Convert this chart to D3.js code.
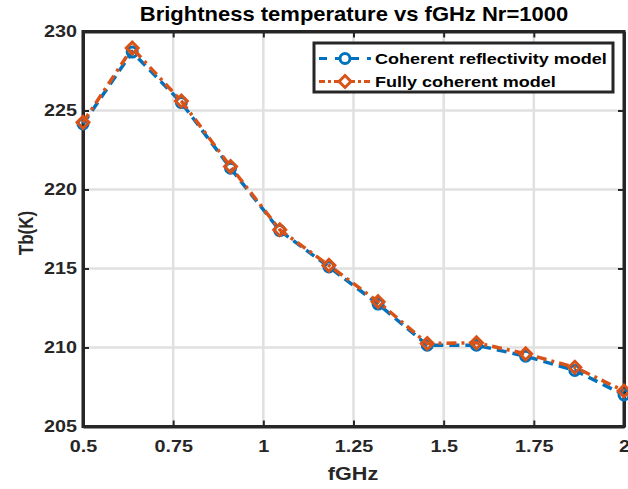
<!doctype html>
<head>
	<title>Tb vs fGHz</title>
	<script src="https://d3js.org/d3.v7.min.js"></script>
	<style>
		body { margin: 0; background: #fff; }
		text { font-family: "Liberation Sans", Arial, sans-serif; font-weight: bold; }
	</style>
</head>
<body>
	<svg id="chart" width="628" height="489"></svg>
	<script>
		// frequencies (GHz), 12 points from 0.5 to 2
		const fGHz = [0.5, 0.6364, 0.7727, 0.9091, 1.0455, 1.1818, 1.3182, 1.4545, 1.5909, 1.7273, 1.8636, 2.0]
		const tbCoherentRefl = [224.15, 228.7, 225.5, 221.35, 217.4, 215.1, 212.75, 210.15, 210.15, 209.45, 208.55, 207.0]
		const tbFullyCoherent = [224.25, 228.95, 225.6, 221.45, 217.45, 215.2, 212.9, 210.25, 210.3, 209.6, 208.75, 207.25]
		const xTicks = [0.5, 0.75, 1, 1.25, 1.5, 1.75, 2]
		const yTicks = [205, 210, 215, 220, 225, 230]
		const seriesNames = ["Coherent reflectivity model", "Fully coherent model"]

		const width = 628, height = 489
		const margin = {left: 83, right: 4, top: 31.5, bottom: 62.5}
		const svg = d3.select("#chart")
		const SX = 1.2 // the figure text looks stretched sideways

		// widen a text element horizontally, keeping its anchor point
		function stretch(sel, k) {
			sel.each(function () {
				const t = d3.select(this)
				const x0 = +t.attr("x") || 0
				const tr = t.attr("transform") || ""
				t.attr("x", x0 / k).attr("transform", tr + ` scale(${k},1)`)
			})
		}

		const x = d3.scaleLinear().domain([0.5, 2]).range([margin.left, width - margin.right])
		const y = d3.scaleLinear().domain([205, 230]).range([height - margin.bottom, margin.top])

		// grid
		svg.append("g").selectAll("line").data(xTicks).join("line")
			.attr("x1", d => x(d)).attr("x2", d => x(d))
			.attr("y1", y(205)).attr("y2", y(230))
			.attr("stroke", "#e0e0e0").attr("stroke-width", 2.5)
		svg.append("g").selectAll("line").data(yTicks).join("line")
			.attr("y1", d => y(d)).attr("y2", d => y(d))
			.attr("x1", x(0.5)).attr("x2", x(2))
			.attr("stroke", "#e0e0e0").attr("stroke-width", 2.5)

		// axes with inward ticks
		const gx = svg.append("g").attr("transform", `translate(0,${y(205)})`)
			.call(d3.axisBottom(x).tickValues(xTicks).tickFormat(d => String(d)).tickSizeInner(-6).tickSizeOuter(0).tickPadding(14))
		const gxTop = svg.append("g").attr("transform", `translate(0,${y(230)})`)
			.call(d3.axisTop(x).tickValues(xTicks).tickFormat("").tickSizeInner(-6).tickSizeOuter(0))
		const gy = svg.append("g").attr("transform", `translate(${x(0.5)},0)`)
			.call(d3.axisLeft(y).tickValues(yTicks).tickSizeInner(-6).tickSizeOuter(0).tickPadding(6))
		const gyR = svg.append("g").attr("transform", `translate(${x(2)},0)`)
			.call(d3.axisRight(y).tickValues(yTicks).tickFormat("").tickSizeInner(-6).tickSizeOuter(0))
		for (const g of [gx, gxTop, gy, gyR]) {
			g.select(".domain").attr("stroke", "#262626").attr("stroke-width", 3)
			g.selectAll(".tick line").attr("stroke", "#262626").attr("stroke-width", 2)
			g.selectAll(".tick text").attr("fill", "#262626").style("font-size", "16.5px")
		}
		stretch(gx.selectAll(".tick text"), SX)
		stretch(gy.selectAll(".tick text"), SX)
		svg.append("rect")
			.attr("x", x(0.5)).attr("y", y(230))
			.attr("width", x(2) - x(0.5)).attr("height", y(205) - y(230))
			.attr("fill", "none").attr("stroke", "#262626").attr("stroke-width", 3)

		// series
		const blue = "#0072BD", orange = "#D95319"
		const line = d3.line().x((d, i) => x(fGHz[i])).y(d => y(d))
		svg.append("path").datum(tbCoherentRefl).attr("d", line)
			.attr("fill", "none").attr("stroke", blue).attr("stroke-width", 3.5)
			.attr("stroke-dasharray", "10,6")
		svg.append("g").selectAll("circle").data(tbCoherentRefl).join("circle")
			.attr("cx", (d, i) => x(fGHz[i])).attr("cy", d => y(d)).attr("r", 5)
			.attr("fill", "none").attr("stroke", blue).attr("stroke-width", 3)

		svg.append("path").datum(tbFullyCoherent).attr("d", line)
			.attr("fill", "none").attr("stroke", orange).attr("stroke-width", 3.5)
			.attr("stroke-dasharray", "10,5,3,5")
		const diamond = d3.symbol().type(d3.symbolDiamond2).size(90)
		svg.append("g").selectAll("path").data(tbFullyCoherent).join("path")
			.attr("transform", (d, i) => `translate(${x(fGHz[i])},${y(d)})`)
			.attr("d", diamond)
			.attr("fill", "none").attr("stroke", orange).attr("stroke-width", 3)

		// legend
		const lg = svg.append("g")
		lg.append("rect").attr("x", 314).attr("y", 43).attr("width", 299).attr("height", 49)
			.attr("fill", "#fff").attr("stroke", "#262626").attr("stroke-width", 3)
		const legendItems = [
			{name: seriesNames[0], color: blue, dash: "8,8", mark: "circle"},
			{name: seriesNames[1], color: orange, dash: "6,3,3,3", mark: "diamond"}
		]
		legendItems.forEach((it, i) => {
			const cy = 58.5 + i * 23
			lg.append("line").attr("x1", 319).attr("x2", 371).attr("y1", cy).attr("y2", cy)
				.attr("stroke", it.color).attr("stroke-width", 3).attr("stroke-dasharray", it.dash)
			if (it.mark === "circle") {
				lg.append("circle").attr("cx", 345).attr("cy", cy).attr("r", 5)
					.attr("fill", "#fff").attr("stroke", it.color).attr("stroke-width", 3)
			} else {
				lg.append("path").attr("transform", `translate(345,${cy})`).attr("d", diamond)
					.attr("fill", "#fff").attr("stroke", it.color).attr("stroke-width", 3)
			}
			lg.append("text").attr("x", 375).attr("y", cy + 6).text(it.name)
				.style("font-size", "15px").attr("fill", "#000")
				.call(stretch, SX)
		})

		// titles
		svg.append("text").attr("x", 354).attr("y", 21).attr("text-anchor", "middle")
			.style("font-size", "20px").attr("fill", "#000").text("Brightness temperature vs fGHz Nr=1000")
			.call(stretch, 1.1)
		svg.append("text").attr("x", 353).attr("y", 480).attr("text-anchor", "middle")
			.style("font-size", "18px").attr("fill", "#262626").text("fGHz")
			.call(stretch, SX)
		svg.append("text").attr("transform", "translate(33,233) rotate(-90) scale(1,1.2)").attr("text-anchor", "middle")
			.style("font-size", "17px").attr("fill", "#262626").text("Tb(K)")
	</script>
</body>
